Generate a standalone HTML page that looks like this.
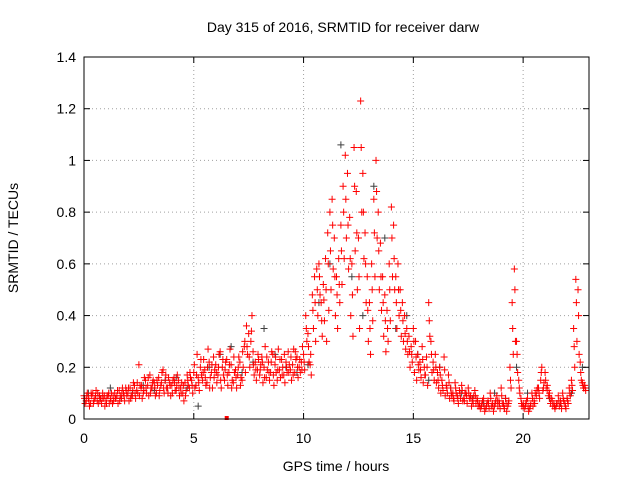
<!DOCTYPE html>
<html><head><meta charset="utf-8"><style>
html,body{margin:0;padding:0;background:#fff;}
svg{display:block;font-family:"Liberation Sans",sans-serif;}
</style></head><body>
<svg id="chart" width="640" height="480" viewBox="0 0 640 480" xmlns="http://www.w3.org/2000/svg">
<rect width="640" height="480" fill="#fff"/>
<text x="343" y="32" font-size="14" text-anchor="middle" fill="#000">Day 315 of 2016, SRMTID for receiver darw</text>
<text x="0" y="0" font-size="14" text-anchor="middle" transform="translate(18,238) rotate(-90)">SRMTID / TECUs</text>
<text x="336" y="471" font-size="14" text-anchor="middle">GPS time / hours</text>
<g id="grid"></g><g id="gray"></g><g id="red"></g><g id="axes"></g>
</svg>
<script>
const xTicks=[0,5,10,15,20];
const yTicks=[0,0.2,0.4,0.6,0.8,1,1.2,1.4];
const yTickLabels=["0","0.2","0.4","0.6","0.8","1","1.2","1.4"];
const redStart=0, redStep=0.1;
const tecuA=[.09,.07,.08,.06,.10,.08,.07,.09,.06,.08,.07,.09,.08,.06,.10,.09,.11,.08,.10,.12,
.10,.12,.09,.13,.11,.21,.12,.10,.15,.13,.17,.12,.14,.10,.16,.13,.19,.15,.12,.14,
.13,.16,.11,.15,.12,.10,.14,.17,.12,.15,.18,.13,.16,.20,.15,.19,.14,.22,.18,.24,
.21,.17,.26,.20,.15,.23,.18,.21,.14,.19,.17,.22,.15,.28,.36,.33,.30,.26,.22,.19,
.17,.24,.20,.16,.22,.18,.25,.21,.15,.19,.23,.17,.22,.26,.19,.21,.18,.24,.20,.22,
.25,.40,.33,.21,.48,.55,.58,.60,.45,.52,.62,.72,.80,.85,.70,.55,.62,.75,.90,1.02,
.95,.78,.60,1.05,.88,.70,1.23,.95,.72,.55,.45,.60,.85,1.00,.80,.68,.55,.48,.42,.60,
.82,.75,.55,.60,.50,.45,.40,.35,.32,.28,.35,.30,.25,.22,.28,.20,.24,.45,.30,.22,
.25,.18,.20,.15,.24,.13,.17,.12,.10,.14,.09,.11,.13,.08,.10,.12,.09,.07,.11,.08,
.06,.05,.08,.04,.07,.10,.06,.05,.09,.07,.12,.06,.08,.05,.20,.45,.58,.30,.15,.08,
.06,.05,.08,.04,.10,.07,.09,.12,.15,.11,.18,.13,.10,.08,.06,.05,.09,.07,.10,.06,
.08,.12,.15,.35,.54,.50,.22,.14,.13];
const tecuB=[.06,.10,.05,.09,.07,.11,.06,.08,.10,.05,.09,.06,.10,.07,.08,.06,.09,.12,.07,.09,
.07,.09,.14,.08,.10,.13,.08,.16,.10,.09,.12,.15,.09,.13,.11,.18,.10,.12,.16,.09,
.15,.11,.17,.09,.14,.07,.11,.13,.16,.10,.12,.25,.11,.17,.23,.13,.27,.16,.12,.19,
.14,.25,.12,.17,.22,.13,.27,.15,.18,.12,.24,.16,.20,.18,.25,.20,.40,.17,.15,.23,
.21,.14,.28,.19,.15,.26,.13,.18,.27,.16,.20,.14,.18,.21,.15,.27,.23,.16,.18,.28,
.19,.30,.22,.17,.35,.30,.40,.48,.32,.38,.30,.42,.50,.58,.40,.35,.45,.52,.62,.70,
.58,.40,.32,.65,.50,.35,.80,.62,.45,.30,.25,.38,.55,.70,.50,.42,.32,.26,.30,.38,
.55,.50,.35,.40,.32,.30,.27,.25,.20,.22,.18,.15,.19,.16,.14,.17,.13,.32,.18,.15,
.14,.12,.10,.11,.09,.10,.08,.09,.07,.10,.06,.08,.07,.10,.06,.08,.05,.09,.06,.05,
.04,.07,.03,.06,.04,.05,.03,.07,.05,.04,.06,.04,.03,.07,.12,.25,.30,.18,.10,.05,
.04,.07,.03,.06,.05,.10,.12,.08,.20,.14,.12,.09,.06,.05,.04,.06,.05,.04,.07,.04,
.06,.09,.11,.20,.30,.25,.15,.12,.11];
const tecuC=[.08,.09,.07,.10,.06,.09,.10,.07,.08,.09,.06,.10,.07,.09,.08,.11,.07,.10,.09,.11,
.12,.08,.11,.10,.14,.09,.13,.11,.12,.16,.10,.14,.12,.15,.09,.14,.12,.17,.10,.13,
.10,.14,.13,.12,.10,.13,.09,.15,.18,.13,.21,.17,.14,.23,.18,.16,.20,.12,.21,.16,
.18,.20,.15,.23,.19,.17,.21,.12,.24,.16,.20,.13,.26,.30,.28,.24,.34,.21,.19,.25,
.19,.22,.16,.24,.18,.22,.17,.24,.19,.23,.17,.25,.20,.18,.24,.17,.26,.20,.23,.19,
.22,.35,.28,.25,.42,.45,.50,.55,.38,.46,.50,.60,.65,.75,.55,.48,.52,.65,.80,.85,
.75,.62,.48,.90,.72,.55,1.05,.80,.60,.42,.35,.50,.72,.88,.65,.55,.45,.38,.35,.50,
.70,.62,.45,.50,.42,.38,.33,.30,.26,.25,.30,.24,.21,.19,.23,.17,.20,.38,.25,.19,
.20,.15,.17,.13,.19,.12,.14,.10,.08,.12,.08,.10,.11,.07,.09,.10,.08,.06,.09,.07,
.05,.06,.05,.05,.06,.08,.05,.06,.07,.06,.09,.05,.06,.06,.15,.35,.50,.25,.12,.06,
.05,.06,.05,.05,.08,.06,.11,.10,.18,.12,.15,.11,.08,.07,.05,.06,.07,.06,.08,.05,
.07,.10,.13,.28,.45,.40,.18,.13,.12];
const grayStart=0, grayStep=0.5;
const grayVals=[.10,.09,.12,.08,.10,.13,.11,.15,.16,.12,.05,.20,.25,.28,.18,.22,.35,.25,.20,.18,
.21,.45,.60,1.06,.55,.40,.90,.70,.35,.40,.25,.15,.20,.12,.10,.08,.06,.10,.08,.20,.10,.12,.08,.06,.10,.20];

const X0=84,X1=589,Y0=419,Y1=57,XMAX=23,YMAX=1.4;
const sx=v=>X0+v/XMAX*(X1-X0);
const sy=v=>Y0-v/YMAX*(Y0-Y1);
const NS="http://www.w3.org/2000/svg";
function mk(tag,attrs,parent){const e=document.createElementNS(NS,tag);for(const k in attrs)e.setAttribute(k,attrs[k]);parent.appendChild(e);return e;}
const grid=document.getElementById('grid'),axes=document.getElementById('axes');
yTicks.forEach((v,i)=>{
  const y=sy(v);
  if(i>0&&i<yTicks.length-1){const g=mk('line',{x1:X0,x2:X1,y1:y,y2:y,stroke:'#a0a0a0','stroke-dasharray':'1,3'},grid);
  
  }
  mk('line',{x1:X0,x2:X0+6,y1:y,y2:y,stroke:'#000'},axes);
  mk('line',{x1:X1,x2:X1-6,y1:y,y2:y,stroke:'#000'},axes);
  const t=mk('text',{x:X0-8,y:y+5,'font-size':14,'text-anchor':'end'},axes);t.textContent=yTickLabels[i];
  
  
});
xTicks.forEach(v=>{
  const x=sx(v);
  if(v>0){const g=mk('line',{x1:x,x2:x,y1:Y0,y2:Y1,stroke:'#a0a0a0','stroke-dasharray':'1,3'},grid);
  
  }
  mk('line',{x1:x,x2:x,y1:Y0,y2:Y0-6,stroke:'#000'},axes);
  mk('line',{x1:x,x2:x,y1:Y1,y2:Y1+6,stroke:'#000'},axes);
  const t=mk('text',{x:x,y:Y0+24,'font-size':14,'text-anchor':'middle'},axes);t.textContent=String(v);
  
  
});
const frame=mk('rect',{x:X0,y:Y1,width:X1-X0,height:Y0-Y1,fill:'none',stroke:'#000'},axes);


function plus(g,t,v,color){
  const x=sx(t),y=sy(v);
  const p=mk('path',{d:`M${x-3.5},${y}h7M${x},${y-3.5}v7`,stroke:color,'stroke-width':1,fill:'none'},g);
  
  
}
const gg=document.getElementById('gray'),rg=document.getElementById('red');




grayVals.forEach((v,i)=>plus(gg,grayStart+i*grayStep+0.2,v,'#404040'));
tecuA.forEach((v,i)=>plus(rg,redStart+i*redStep,v,'#ff0000'));
tecuB.forEach((v,i)=>plus(rg,redStart+i*redStep+0.05,v,'#ff0000'));
tecuC.forEach((v,i)=>plus(rg,redStart+i*redStep+0.025,v,'#ff0000'));
const sq=mk('rect',{x:sx(6.5)-2,y:Y0-3,width:4,height:4,fill:'#ff0000'},rg);


</script>
</body></html>
